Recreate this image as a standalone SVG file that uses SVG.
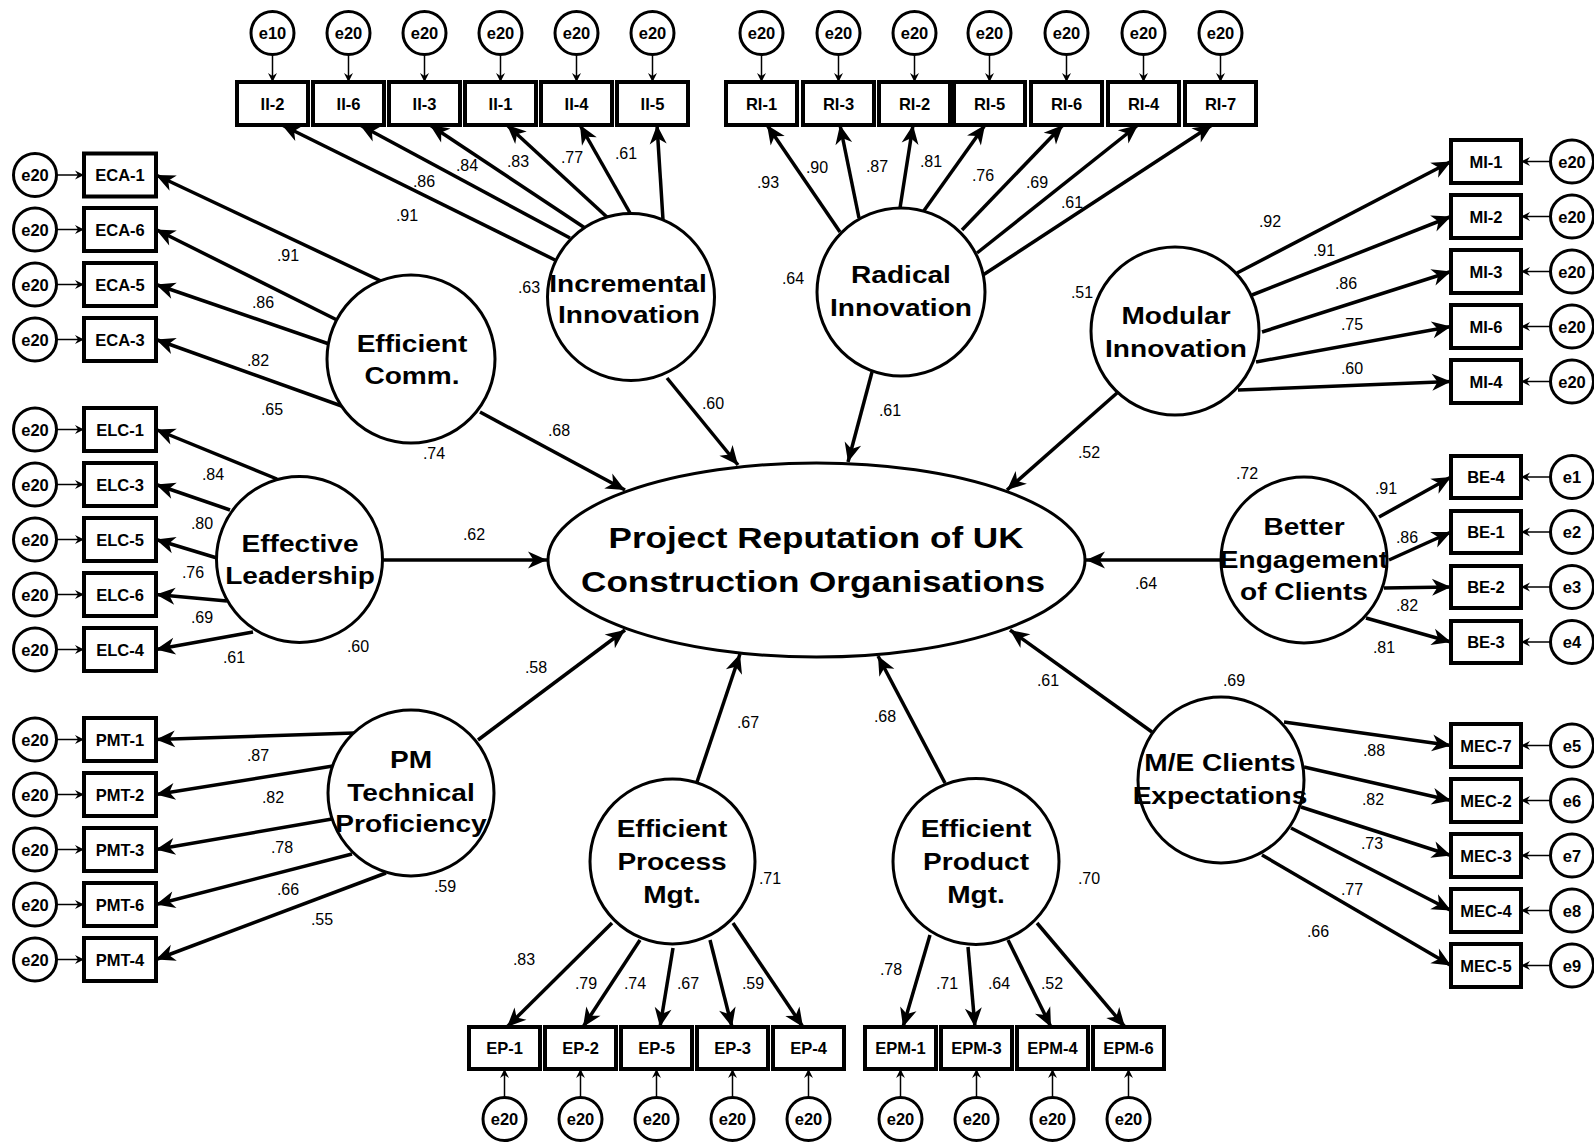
<svg xmlns="http://www.w3.org/2000/svg" width="1594" height="1142" viewBox="0 0 1594 1142">
<defs>
<marker id="ah" markerUnits="userSpaceOnUse" markerWidth="24" markerHeight="20" viewBox="-20 -10 24 20" refX="0" refY="0" orient="auto" overflow="visible">
<path d="M0,0 L-19,-8.5 L-13.5,0 L-19,8.5 Z" fill="#000"/>
</marker>
<marker id="sh" markerUnits="userSpaceOnUse" markerWidth="12" markerHeight="12" viewBox="-10 -6 12 12" refX="0" refY="0" orient="auto" overflow="visible">
<path d="M0,0 L-9,-4.5 L-6,0 L-9,4.5 Z" fill="#000"/>
</marker>
<style>
.box{fill:#fff;stroke:#000;stroke-width:4}
.err{fill:#fff;stroke:#000;stroke-width:3}
.lat{fill:#fff;stroke:#000;stroke-width:3}
.bt{font:bold 16.5px "Liberation Sans",Arial,sans-serif;text-anchor:middle;fill:#000}
.et{font:bold 16.5px "Liberation Sans",Arial,sans-serif;text-anchor:middle;fill:#000}
.lt{font:bold 24px "Liberation Sans",Arial,sans-serif;text-anchor:middle;fill:#000}
.ct{font:bold 30px "Liberation Sans",Arial,sans-serif;text-anchor:middle;fill:#000}
.num{font:16px "Liberation Sans",Arial,sans-serif;text-anchor:middle;fill:#000}
.main{stroke:#000;stroke-width:3.5;fill:none;marker-end:url(#ah)}
.thin{stroke:#000;stroke-width:1.5;fill:none;marker-end:url(#sh)}
</style>
</defs>
<rect width="1594" height="1142" fill="#fff"/>

<!-- paths, loadings and error terms -->
<g id="connectors">
<!-- structural paths into the outcome -->
<line class="main" x1="480" y1="412" x2="625" y2="490"/>
<line class="main" x1="667" y1="378" x2="738" y2="465"/>
<line class="main" x1="872" y1="372" x2="848" y2="462"/>
<line class="main" x1="1117" y1="393" x2="1007" y2="490"/>
<line class="main" x1="382" y1="560" x2="547" y2="560"/>
<line class="main" x1="1221" y1="560" x2="1086" y2="560"/>
<line class="main" x1="478" y1="740" x2="625" y2="630"/>
<line class="main" x1="697" y1="782" x2="740" y2="654"/>
<line class="main" x1="945" y1="783" x2="878" y2="656"/>
<line class="main" x1="1152" y1="732" x2="1010" y2="630"/>
<!-- Incremental Innovation loadings -->
<line class="main" x1="555" y1="260" x2="282" y2="125"/>
<line class="main" x1="570" y1="238" x2="360" y2="125"/>
<line class="main" x1="585" y1="228" x2="430" y2="125"/>
<line class="main" x1="608" y1="218" x2="507" y2="125"/>
<line class="main" x1="630" y1="213" x2="580" y2="125"/>
<line class="main" x1="663" y1="220" x2="657" y2="125"/>
<!-- Radical Innovation loadings -->
<line class="main" x1="840" y1="232" x2="767" y2="125"/>
<line class="main" x1="859" y1="218" x2="840" y2="125"/>
<line class="main" x1="900" y1="208" x2="913" y2="125"/>
<line class="main" x1="923" y1="212" x2="985" y2="125"/>
<line class="main" x1="962" y1="230" x2="1063" y2="125"/>
<line class="main" x1="977" y1="253" x2="1138" y2="125"/>
<line class="main" x1="983" y1="275" x2="1212" y2="125"/>
<!-- Modular Innovation loadings -->
<line class="main" x1="1237" y1="273" x2="1451" y2="161.5"/>
<line class="main" x1="1252" y1="295" x2="1451" y2="216.5"/>
<line class="main" x1="1262" y1="332" x2="1451" y2="271.5"/>
<line class="main" x1="1256" y1="362" x2="1451" y2="326.5"/>
<line class="main" x1="1238" y1="390" x2="1451" y2="381.5"/>
<!-- Efficient Comm. loadings -->
<line class="main" x1="381" y1="281" x2="156" y2="175"/>
<line class="main" x1="337" y1="320" x2="156" y2="229.5"/>
<line class="main" x1="332" y1="345" x2="156" y2="284.5"/>
<line class="main" x1="350" y1="409" x2="156" y2="339.5"/>
<!-- Effective Leadership loadings -->
<line class="main" x1="277" y1="479" x2="156" y2="429.5"/>
<line class="main" x1="230" y1="510" x2="156" y2="484.5"/>
<line class="main" x1="217" y1="558" x2="156" y2="539.5"/>
<line class="main" x1="227" y1="601" x2="156" y2="594.5"/>
<line class="main" x1="253" y1="632" x2="156" y2="649.5"/>
<!-- PM Technical Proficiency loadings -->
<line class="main" x1="354" y1="733" x2="156" y2="739.5"/>
<line class="main" x1="333" y1="766" x2="156" y2="794.5"/>
<line class="main" x1="332" y1="819" x2="156" y2="849.5"/>
<line class="main" x1="352" y1="854" x2="156" y2="904.5"/>
<line class="main" x1="386" y1="873" x2="156" y2="959.5"/>
<!-- Efficient Process Mgt. loadings -->
<line class="main" x1="612" y1="923" x2="507" y2="1027"/>
<line class="main" x1="640" y1="940" x2="583" y2="1027"/>
<line class="main" x1="673" y1="948" x2="660" y2="1027"/>
<line class="main" x1="710" y1="940" x2="732" y2="1027"/>
<line class="main" x1="733" y1="923" x2="803" y2="1027"/>
<!-- Efficient Product Mgt. loadings -->
<line class="main" x1="930" y1="935" x2="903" y2="1027"/>
<line class="main" x1="968" y1="947" x2="975" y2="1027"/>
<line class="main" x1="1008" y1="940" x2="1051" y2="1027"/>
<line class="main" x1="1037" y1="923" x2="1125" y2="1027"/>
<!-- Better Engagement of Clients loadings -->
<line class="main" x1="1379" y1="517" x2="1451" y2="477"/>
<line class="main" x1="1389" y1="560" x2="1451" y2="532"/>
<line class="main" x1="1384" y1="588" x2="1451" y2="587"/>
<line class="main" x1="1366" y1="618" x2="1451" y2="642"/>
<!-- M/E Clients Expectations loadings -->
<line class="main" x1="1284" y1="722" x2="1451" y2="745.5"/>
<line class="main" x1="1304" y1="767" x2="1451" y2="800.5"/>
<line class="main" x1="1301" y1="807" x2="1451" y2="855.5"/>
<line class="main" x1="1291" y1="828" x2="1451" y2="910.5"/>
<line class="main" x1="1262" y1="855" x2="1451" y2="965.5"/>

<!-- error terms: top row -->
<line class="thin" x1="272.5" y1="55" x2="272.5" y2="82"/>
<line class="thin" x1="348.5" y1="55" x2="348.5" y2="82"/>
<line class="thin" x1="424.5" y1="55" x2="424.5" y2="82"/>
<line class="thin" x1="500.5" y1="55" x2="500.5" y2="82"/>
<line class="thin" x1="576.5" y1="55" x2="576.5" y2="82"/>
<line class="thin" x1="652.5" y1="55" x2="652.5" y2="82"/>
<line class="thin" x1="761.5" y1="55" x2="761.5" y2="82"/>
<line class="thin" x1="838.5" y1="55" x2="838.5" y2="82"/>
<line class="thin" x1="914.5" y1="55" x2="914.5" y2="82"/>
<line class="thin" x1="989.5" y1="55" x2="989.5" y2="82"/>
<line class="thin" x1="1066.5" y1="55" x2="1066.5" y2="82"/>
<line class="thin" x1="1143.5" y1="55" x2="1143.5" y2="82"/>
<line class="thin" x1="1220.5" y1="55" x2="1220.5" y2="82"/>
<!-- error terms: left column -->
<line class="thin" x1="57" y1="175" x2="84" y2="175"/>
<line class="thin" x1="57" y1="229.5" x2="84" y2="229.5"/>
<line class="thin" x1="57" y1="284.5" x2="84" y2="284.5"/>
<line class="thin" x1="57" y1="339.5" x2="84" y2="339.5"/>
<line class="thin" x1="57" y1="429.5" x2="84" y2="429.5"/>
<line class="thin" x1="57" y1="484.5" x2="84" y2="484.5"/>
<line class="thin" x1="57" y1="539.5" x2="84" y2="539.5"/>
<line class="thin" x1="57" y1="594.5" x2="84" y2="594.5"/>
<line class="thin" x1="57" y1="649.5" x2="84" y2="649.5"/>
<line class="thin" x1="57" y1="739.5" x2="84" y2="739.5"/>
<line class="thin" x1="57" y1="794.5" x2="84" y2="794.5"/>
<line class="thin" x1="57" y1="849.5" x2="84" y2="849.5"/>
<line class="thin" x1="57" y1="904.5" x2="84" y2="904.5"/>
<line class="thin" x1="57" y1="959.5" x2="84" y2="959.5"/>
<!-- error terms: right column -->
<line class="thin" x1="1550" y1="161.5" x2="1521" y2="161.5"/>
<line class="thin" x1="1550" y1="216.5" x2="1521" y2="216.5"/>
<line class="thin" x1="1550" y1="271.5" x2="1521" y2="271.5"/>
<line class="thin" x1="1550" y1="326.5" x2="1521" y2="326.5"/>
<line class="thin" x1="1550" y1="381.5" x2="1521" y2="381.5"/>
<line class="thin" x1="1550" y1="477" x2="1521" y2="477"/>
<line class="thin" x1="1550" y1="532" x2="1521" y2="532"/>
<line class="thin" x1="1550" y1="587" x2="1521" y2="587"/>
<line class="thin" x1="1550" y1="642" x2="1521" y2="642"/>
<line class="thin" x1="1550" y1="745.5" x2="1521" y2="745.5"/>
<line class="thin" x1="1550" y1="800.5" x2="1521" y2="800.5"/>
<line class="thin" x1="1550" y1="855.5" x2="1521" y2="855.5"/>
<line class="thin" x1="1550" y1="910.5" x2="1521" y2="910.5"/>
<line class="thin" x1="1550" y1="965.5" x2="1521" y2="965.5"/>
<!-- error terms: bottom row -->
<line class="thin" x1="504.5" y1="1097" x2="504.5" y2="1069"/>
<line class="thin" x1="580.5" y1="1097" x2="580.5" y2="1069"/>
<line class="thin" x1="656.5" y1="1097" x2="656.5" y2="1069"/>
<line class="thin" x1="732.5" y1="1097" x2="732.5" y2="1069"/>
<line class="thin" x1="808.5" y1="1097" x2="808.5" y2="1069"/>
<line class="thin" x1="900.5" y1="1097" x2="900.5" y2="1069"/>
<line class="thin" x1="976.5" y1="1097" x2="976.5" y2="1069"/>
<line class="thin" x1="1052.5" y1="1097" x2="1052.5" y2="1069"/>
<line class="thin" x1="1128.5" y1="1097" x2="1128.5" y2="1069"/>

<!-- coefficient labels -->
<g id="edge-labels">
<text class="num" x="407" y="221">.91</text>
<text class="num" x="424" y="187">.86</text>
<text class="num" x="467" y="171">.84</text>
<text class="num" x="518" y="167">.83</text>
<text class="num" x="572" y="163">.77</text>
<text class="num" x="626" y="159">.61</text>
<text class="num" x="529" y="293">.63</text>
<text class="num" x="768" y="188">.93</text>
<text class="num" x="817" y="173">.90</text>
<text class="num" x="877" y="172">.87</text>
<text class="num" x="931" y="167">.81</text>
<text class="num" x="983" y="181">.76</text>
<text class="num" x="1037" y="188">.69</text>
<text class="num" x="1072" y="208">.61</text>
<text class="num" x="793" y="284">.64</text>
<text class="num" x="1082" y="298">.51</text>
<text class="num" x="1270" y="227">.92</text>
<text class="num" x="1324" y="256">.91</text>
<text class="num" x="1346" y="289">.86</text>
<text class="num" x="1352" y="330">.75</text>
<text class="num" x="1352" y="374">.60</text>
<text class="num" x="288" y="261">.91</text>
<text class="num" x="263" y="308">.86</text>
<text class="num" x="258" y="366">.82</text>
<text class="num" x="272" y="415">.65</text>
<text class="num" x="434" y="459">.74</text>
<text class="num" x="559" y="436">.68</text>
<text class="num" x="713" y="409">.60</text>
<text class="num" x="890" y="416">.61</text>
<text class="num" x="1089" y="458">.52</text>
<text class="num" x="213" y="480">.84</text>
<text class="num" x="202" y="529">.80</text>
<text class="num" x="193" y="578">.76</text>
<text class="num" x="202" y="623">.69</text>
<text class="num" x="234" y="663">.61</text>
<text class="num" x="358" y="652">.60</text>
<text class="num" x="474" y="540">.62</text>
<text class="num" x="1146" y="589">.64</text>
<text class="num" x="1247" y="479">.72</text>
<text class="num" x="1386" y="494">.91</text>
<text class="num" x="1407" y="543">.86</text>
<text class="num" x="1407" y="611">.82</text>
<text class="num" x="1384" y="653">.81</text>
<text class="num" x="536" y="673">.58</text>
<text class="num" x="748" y="728">.67</text>
<text class="num" x="885" y="722">.68</text>
<text class="num" x="1048" y="686">.61</text>
<text class="num" x="1234" y="686">.69</text>
<text class="num" x="258" y="761">.87</text>
<text class="num" x="273" y="803">.82</text>
<text class="num" x="282" y="853">.78</text>
<text class="num" x="288" y="895">.66</text>
<text class="num" x="322" y="925">.55</text>
<text class="num" x="445" y="892">.59</text>
<text class="num" x="770" y="884">.71</text>
<text class="num" x="524" y="965">.83</text>
<text class="num" x="586" y="989">.79</text>
<text class="num" x="635" y="989">.74</text>
<text class="num" x="688" y="989">.67</text>
<text class="num" x="753" y="989">.59</text>
<text class="num" x="1089" y="884">.70</text>
<text class="num" x="891" y="975">.78</text>
<text class="num" x="947" y="989">.71</text>
<text class="num" x="999" y="989">.64</text>
<text class="num" x="1052" y="989">.52</text>
<text class="num" x="1374" y="756">.88</text>
<text class="num" x="1373" y="805">.82</text>
<text class="num" x="1372" y="849">.73</text>
<text class="num" x="1352" y="895">.77</text>
<text class="num" x="1318" y="937">.66</text>
</g>
</g>

<!-- outcome construct -->
<g id="project-reputation">
<ellipse class="lat" cx="816.5" cy="560" rx="268.5" ry="97"/>
<text class="ct" transform="translate(816,0) scale(1.17,1)" x="0" y="548">Project Reputation of UK</text>
<text class="ct" transform="translate(813,0) scale(1.17,1)" x="0" y="592">Construction Organisations</text>
</g>

<!-- latent constructs -->
<g id="incremental-innovation">
<circle class="lat" cx="631" cy="297" r="83.5"/>
<text class="lt" transform="translate(628,0) scale(1.17,1)" x="0" y="292">Incremental</text>
<text class="lt" transform="translate(629,0) scale(1.17,1)" x="0" y="323">Innovation</text>
</g>
<g id="radical-innovation">
<circle class="lat" cx="901" cy="292" r="84"/>
<text class="lt" transform="translate(901,0) scale(1.17,1)" x="0" y="283">Radical</text>
<text class="lt" transform="translate(901,0) scale(1.17,1)" x="0" y="316">Innovation</text>
</g>
<g id="modular-innovation">
<circle class="lat" cx="1175" cy="331" r="84"/>
<text class="lt" transform="translate(1176,0) scale(1.17,1)" x="0" y="324">Modular</text>
<text class="lt" transform="translate(1176,0) scale(1.17,1)" x="0" y="357">Innovation</text>
</g>
<g id="efficient-comm">
<circle class="lat" cx="411" cy="359" r="84"/>
<text class="lt" transform="translate(412,0) scale(1.17,1)" x="0" y="352">Efficient</text>
<text class="lt" transform="translate(412,0) scale(1.17,1)" x="0" y="384">Comm.</text>
</g>
<g id="effective-leadership">
<circle class="lat" cx="299.5" cy="559.5" r="83"/>
<text class="lt" transform="translate(300,0) scale(1.17,1)" x="0" y="552">Effective</text>
<text class="lt" transform="translate(300,0) scale(1.17,1)" x="0" y="584">Leadership</text>
</g>
<g id="pm-technical-proficiency">
<circle class="lat" cx="411" cy="793" r="83"/>
<text class="lt" transform="translate(411,0) scale(1.17,1)" x="0" y="768">PM</text>
<text class="lt" transform="translate(411,0) scale(1.17,1)" x="0" y="801">Technical</text>
<text class="lt" transform="translate(411,0) scale(1.17,1)" x="0" y="832">Proficiency</text>
</g>
<g id="efficient-process-mgt">
<circle class="lat" cx="672.5" cy="861.5" r="82.5"/>
<text class="lt" transform="translate(672,0) scale(1.17,1)" x="0" y="837">Efficient</text>
<text class="lt" transform="translate(672,0) scale(1.17,1)" x="0" y="870">Process</text>
<text class="lt" transform="translate(672,0) scale(1.17,1)" x="0" y="903">Mgt.</text>
</g>
<g id="efficient-product-mgt">
<circle class="lat" cx="976" cy="861.5" r="83"/>
<text class="lt" transform="translate(976,0) scale(1.17,1)" x="0" y="837">Efficient</text>
<text class="lt" transform="translate(976,0) scale(1.17,1)" x="0" y="870">Product</text>
<text class="lt" transform="translate(976,0) scale(1.17,1)" x="0" y="903">Mgt.</text>
</g>
<g id="better-engagement">
<circle class="lat" cx="1304" cy="560" r="83"/>
<text class="lt" transform="translate(1304,0) scale(1.17,1)" x="0" y="535">Better</text>
<text class="lt" transform="translate(1304,0) scale(1.17,1)" x="0" y="568">Engagement</text>
<text class="lt" transform="translate(1304,0) scale(1.17,1)" x="0" y="600">of Clients</text>
</g>
<g id="me-clients-expectations">
<circle class="lat" cx="1221" cy="780" r="83"/>
<text class="lt" transform="translate(1220,0) scale(1.17,1)" x="0" y="771">M/E Clients</text>
<text class="lt" transform="translate(1220,0) scale(1.17,1)" x="0" y="804">Expectations</text>
</g>

<!-- observed indicators: top row -->
<g id="II-2"><rect class="box" x="237" y="82" width="71" height="43"/><text class="bt" x="272.5" y="109.5">II-2</text></g>
<g id="II-6"><rect class="box" x="313" y="82" width="71" height="43"/><text class="bt" x="348.5" y="109.5">II-6</text></g>
<g id="II-3"><rect class="box" x="389" y="82" width="71" height="43"/><text class="bt" x="424.5" y="109.5">II-3</text></g>
<g id="II-1"><rect class="box" x="465" y="82" width="71" height="43"/><text class="bt" x="500.5" y="109.5">II-1</text></g>
<g id="II-4"><rect class="box" x="541" y="82" width="71" height="43"/><text class="bt" x="576.5" y="109.5">II-4</text></g>
<g id="II-5"><rect class="box" x="617" y="82" width="71" height="43"/><text class="bt" x="652.5" y="109.5">II-5</text></g>
<g id="RI-1"><rect class="box" x="726" y="82" width="71" height="43"/><text class="bt" x="761.5" y="109.5">RI-1</text></g>
<g id="RI-3"><rect class="box" x="803" y="82" width="71" height="43"/><text class="bt" x="838.5" y="109.5">RI-3</text></g>
<g id="RI-2"><rect class="box" x="879" y="82" width="71" height="43"/><text class="bt" x="914.5" y="109.5">RI-2</text></g>
<g id="RI-5"><rect class="box" x="954" y="82" width="71" height="43"/><text class="bt" x="989.5" y="109.5">RI-5</text></g>
<g id="RI-6"><rect class="box" x="1031" y="82" width="71" height="43"/><text class="bt" x="1066.5" y="109.5">RI-6</text></g>
<g id="RI-4"><rect class="box" x="1108" y="82" width="71" height="43"/><text class="bt" x="1143.5" y="109.5">RI-4</text></g>
<g id="RI-7"><rect class="box" x="1185" y="82" width="71" height="43"/><text class="bt" x="1220.5" y="109.5">RI-7</text></g>

<!-- observed indicators: left column -->
<g id="ECA-1"><rect class="box" x="84" y="153.5" width="72" height="43"/><text class="bt" x="120" y="181">ECA-1</text></g>
<g id="ECA-6"><rect class="box" x="84" y="208" width="72" height="43"/><text class="bt" x="120" y="235.5">ECA-6</text></g>
<g id="ECA-5"><rect class="box" x="84" y="263" width="72" height="43"/><text class="bt" x="120" y="290.5">ECA-5</text></g>
<g id="ECA-3"><rect class="box" x="84" y="318" width="72" height="43"/><text class="bt" x="120" y="345.5">ECA-3</text></g>
<g id="ELC-1"><rect class="box" x="84" y="408" width="72" height="43"/><text class="bt" x="120" y="435.5">ELC-1</text></g>
<g id="ELC-3"><rect class="box" x="84" y="463" width="72" height="43"/><text class="bt" x="120" y="490.5">ELC-3</text></g>
<g id="ELC-5"><rect class="box" x="84" y="518" width="72" height="43"/><text class="bt" x="120" y="545.5">ELC-5</text></g>
<g id="ELC-6"><rect class="box" x="84" y="573" width="72" height="43"/><text class="bt" x="120" y="600.5">ELC-6</text></g>
<g id="ELC-4"><rect class="box" x="84" y="628" width="72" height="43"/><text class="bt" x="120" y="655.5">ELC-4</text></g>
<g id="PMT-1"><rect class="box" x="84" y="718" width="72" height="43"/><text class="bt" x="120" y="745.5">PMT-1</text></g>
<g id="PMT-2"><rect class="box" x="84" y="773" width="72" height="43"/><text class="bt" x="120" y="800.5">PMT-2</text></g>
<g id="PMT-3"><rect class="box" x="84" y="828" width="72" height="43"/><text class="bt" x="120" y="855.5">PMT-3</text></g>
<g id="PMT-6"><rect class="box" x="84" y="883" width="72" height="43"/><text class="bt" x="120" y="910.5">PMT-6</text></g>
<g id="PMT-4"><rect class="box" x="84" y="938" width="72" height="43"/><text class="bt" x="120" y="965.5">PMT-4</text></g>

<!-- observed indicators: right column -->
<g id="MI-1"><rect class="box" x="1451" y="140" width="70" height="43"/><text class="bt" x="1486" y="167.5">MI-1</text></g>
<g id="MI-2"><rect class="box" x="1451" y="195" width="70" height="43"/><text class="bt" x="1486" y="222.5">MI-2</text></g>
<g id="MI-3"><rect class="box" x="1451" y="250" width="70" height="43"/><text class="bt" x="1486" y="277.5">MI-3</text></g>
<g id="MI-6"><rect class="box" x="1451" y="305" width="70" height="43"/><text class="bt" x="1486" y="332.5">MI-6</text></g>
<g id="MI-4"><rect class="box" x="1451" y="360" width="70" height="43"/><text class="bt" x="1486" y="387.5">MI-4</text></g>
<g id="BE-4"><rect class="box" x="1451" y="456" width="70" height="42"/><text class="bt" x="1486" y="483">BE-4</text></g>
<g id="BE-1"><rect class="box" x="1451" y="511" width="70" height="42"/><text class="bt" x="1486" y="538">BE-1</text></g>
<g id="BE-2"><rect class="box" x="1451" y="566" width="70" height="42"/><text class="bt" x="1486" y="593">BE-2</text></g>
<g id="BE-3"><rect class="box" x="1451" y="621" width="70" height="42"/><text class="bt" x="1486" y="648">BE-3</text></g>
<g id="MEC-7"><rect class="box" x="1451" y="724" width="70" height="43"/><text class="bt" x="1486" y="751.5">MEC-7</text></g>
<g id="MEC-2"><rect class="box" x="1451" y="779" width="70" height="43"/><text class="bt" x="1486" y="806.5">MEC-2</text></g>
<g id="MEC-3"><rect class="box" x="1451" y="834" width="70" height="43"/><text class="bt" x="1486" y="861.5">MEC-3</text></g>
<g id="MEC-4"><rect class="box" x="1451" y="889" width="70" height="43"/><text class="bt" x="1486" y="916.5">MEC-4</text></g>
<g id="MEC-5"><rect class="box" x="1451" y="944" width="70" height="43"/><text class="bt" x="1486" y="971.5">MEC-5</text></g>

<!-- observed indicators: bottom row -->
<g id="EP-1"><rect class="box" x="469" y="1027" width="71" height="42"/><text class="bt" x="504.5" y="1054">EP-1</text></g>
<g id="EP-2"><rect class="box" x="545" y="1027" width="71" height="42"/><text class="bt" x="580.5" y="1054">EP-2</text></g>
<g id="EP-5"><rect class="box" x="621" y="1027" width="71" height="42"/><text class="bt" x="656.5" y="1054">EP-5</text></g>
<g id="EP-3"><rect class="box" x="697" y="1027" width="71" height="42"/><text class="bt" x="732.5" y="1054">EP-3</text></g>
<g id="EP-4"><rect class="box" x="773" y="1027" width="71" height="42"/><text class="bt" x="808.5" y="1054">EP-4</text></g>
<g id="EPM-1"><rect class="box" x="865" y="1027" width="71" height="42"/><text class="bt" x="900.5" y="1054">EPM-1</text></g>
<g id="EPM-3"><rect class="box" x="941" y="1027" width="71" height="42"/><text class="bt" x="976.5" y="1054">EPM-3</text></g>
<g id="EPM-4"><rect class="box" x="1017" y="1027" width="71" height="42"/><text class="bt" x="1052.5" y="1054">EPM-4</text></g>
<g id="EPM-6"><rect class="box" x="1093" y="1027" width="71" height="42"/><text class="bt" x="1128.5" y="1054">EPM-6</text></g>

<!-- error terms: circles -->
<g id="err-II-2"><circle class="err" cx="272.5" cy="33" r="21.5"/><text class="et" x="272.5" y="39">e10</text></g>
<g id="err-II-6"><circle class="err" cx="348.5" cy="33" r="21.5"/><text class="et" x="348.5" y="39">e20</text></g>
<g id="err-II-3"><circle class="err" cx="424.5" cy="33" r="21.5"/><text class="et" x="424.5" y="39">e20</text></g>
<g id="err-II-1"><circle class="err" cx="500.5" cy="33" r="21.5"/><text class="et" x="500.5" y="39">e20</text></g>
<g id="err-II-4"><circle class="err" cx="576.5" cy="33" r="21.5"/><text class="et" x="576.5" y="39">e20</text></g>
<g id="err-II-5"><circle class="err" cx="652.5" cy="33" r="21.5"/><text class="et" x="652.5" y="39">e20</text></g>
<g id="err-RI-1"><circle class="err" cx="761.5" cy="33" r="21.5"/><text class="et" x="761.5" y="39">e20</text></g>
<g id="err-RI-3"><circle class="err" cx="838.5" cy="33" r="21.5"/><text class="et" x="838.5" y="39">e20</text></g>
<g id="err-RI-2"><circle class="err" cx="914.5" cy="33" r="21.5"/><text class="et" x="914.5" y="39">e20</text></g>
<g id="err-RI-5"><circle class="err" cx="989.5" cy="33" r="21.5"/><text class="et" x="989.5" y="39">e20</text></g>
<g id="err-RI-6"><circle class="err" cx="1066.5" cy="33" r="21.5"/><text class="et" x="1066.5" y="39">e20</text></g>
<g id="err-RI-4"><circle class="err" cx="1143.5" cy="33" r="21.5"/><text class="et" x="1143.5" y="39">e20</text></g>
<g id="err-RI-7"><circle class="err" cx="1220.5" cy="33" r="21.5"/><text class="et" x="1220.5" y="39">e20</text></g>

<g id="err-ECA-1"><circle class="err" cx="35" cy="175" r="21.5"/><text class="et" x="35" y="181">e20</text></g>
<g id="err-ECA-6"><circle class="err" cx="35" cy="229.5" r="21.5"/><text class="et" x="35" y="235.5">e20</text></g>
<g id="err-ECA-5"><circle class="err" cx="35" cy="284.5" r="21.5"/><text class="et" x="35" y="290.5">e20</text></g>
<g id="err-ECA-3"><circle class="err" cx="35" cy="339.5" r="21.5"/><text class="et" x="35" y="345.5">e20</text></g>
<g id="err-ELC-1"><circle class="err" cx="35" cy="429.5" r="21.5"/><text class="et" x="35" y="435.5">e20</text></g>
<g id="err-ELC-3"><circle class="err" cx="35" cy="484.5" r="21.5"/><text class="et" x="35" y="490.5">e20</text></g>
<g id="err-ELC-5"><circle class="err" cx="35" cy="539.5" r="21.5"/><text class="et" x="35" y="545.5">e20</text></g>
<g id="err-ELC-6"><circle class="err" cx="35" cy="594.5" r="21.5"/><text class="et" x="35" y="600.5">e20</text></g>
<g id="err-ELC-4"><circle class="err" cx="35" cy="649.5" r="21.5"/><text class="et" x="35" y="655.5">e20</text></g>
<g id="err-PMT-1"><circle class="err" cx="35" cy="739.5" r="21.5"/><text class="et" x="35" y="745.5">e20</text></g>
<g id="err-PMT-2"><circle class="err" cx="35" cy="794.5" r="21.5"/><text class="et" x="35" y="800.5">e20</text></g>
<g id="err-PMT-3"><circle class="err" cx="35" cy="849.5" r="21.5"/><text class="et" x="35" y="855.5">e20</text></g>
<g id="err-PMT-6"><circle class="err" cx="35" cy="904.5" r="21.5"/><text class="et" x="35" y="910.5">e20</text></g>
<g id="err-PMT-4"><circle class="err" cx="35" cy="959.5" r="21.5"/><text class="et" x="35" y="965.5">e20</text></g>

<g id="err-MI-1"><circle class="err" cx="1572" cy="161.5" r="21.5"/><text class="et" x="1572" y="167.5">e20</text></g>
<g id="err-MI-2"><circle class="err" cx="1572" cy="216.5" r="21.5"/><text class="et" x="1572" y="222.5">e20</text></g>
<g id="err-MI-3"><circle class="err" cx="1572" cy="271.5" r="21.5"/><text class="et" x="1572" y="277.5">e20</text></g>
<g id="err-MI-6"><circle class="err" cx="1572" cy="326.5" r="21.5"/><text class="et" x="1572" y="332.5">e20</text></g>
<g id="err-MI-4"><circle class="err" cx="1572" cy="381.5" r="21.5"/><text class="et" x="1572" y="387.5">e20</text></g>
<g id="err-BE-4"><circle class="err" cx="1572" cy="477" r="21.5"/><text class="et" x="1572" y="483">e1</text></g>
<g id="err-BE-1"><circle class="err" cx="1572" cy="532" r="21.5"/><text class="et" x="1572" y="538">e2</text></g>
<g id="err-BE-2"><circle class="err" cx="1572" cy="587" r="21.5"/><text class="et" x="1572" y="593">e3</text></g>
<g id="err-BE-3"><circle class="err" cx="1572" cy="642" r="21.5"/><text class="et" x="1572" y="648">e4</text></g>
<g id="err-MEC-7"><circle class="err" cx="1572" cy="745.5" r="21.5"/><text class="et" x="1572" y="751.5">e5</text></g>
<g id="err-MEC-2"><circle class="err" cx="1572" cy="800.5" r="21.5"/><text class="et" x="1572" y="806.5">e6</text></g>
<g id="err-MEC-3"><circle class="err" cx="1572" cy="855.5" r="21.5"/><text class="et" x="1572" y="861.5">e7</text></g>
<g id="err-MEC-4"><circle class="err" cx="1572" cy="910.5" r="21.5"/><text class="et" x="1572" y="916.5">e8</text></g>
<g id="err-MEC-5"><circle class="err" cx="1572" cy="965.5" r="21.5"/><text class="et" x="1572" y="971.5">e9</text></g>

<g id="err-EP-1"><circle class="err" cx="504.5" cy="1119" r="21.5"/><text class="et" x="504.5" y="1125">e20</text></g>
<g id="err-EP-2"><circle class="err" cx="580.5" cy="1119" r="21.5"/><text class="et" x="580.5" y="1125">e20</text></g>
<g id="err-EP-5"><circle class="err" cx="656.5" cy="1119" r="21.5"/><text class="et" x="656.5" y="1125">e20</text></g>
<g id="err-EP-3"><circle class="err" cx="732.5" cy="1119" r="21.5"/><text class="et" x="732.5" y="1125">e20</text></g>
<g id="err-EP-4"><circle class="err" cx="808.5" cy="1119" r="21.5"/><text class="et" x="808.5" y="1125">e20</text></g>
<g id="err-EPM-1"><circle class="err" cx="900.5" cy="1119" r="21.5"/><text class="et" x="900.5" y="1125">e20</text></g>
<g id="err-EPM-3"><circle class="err" cx="976.5" cy="1119" r="21.5"/><text class="et" x="976.5" y="1125">e20</text></g>
<g id="err-EPM-4"><circle class="err" cx="1052.5" cy="1119" r="21.5"/><text class="et" x="1052.5" y="1125">e20</text></g>
<g id="err-EPM-6"><circle class="err" cx="1128.5" cy="1119" r="21.5"/><text class="et" x="1128.5" y="1125">e20</text></g>
</svg>
